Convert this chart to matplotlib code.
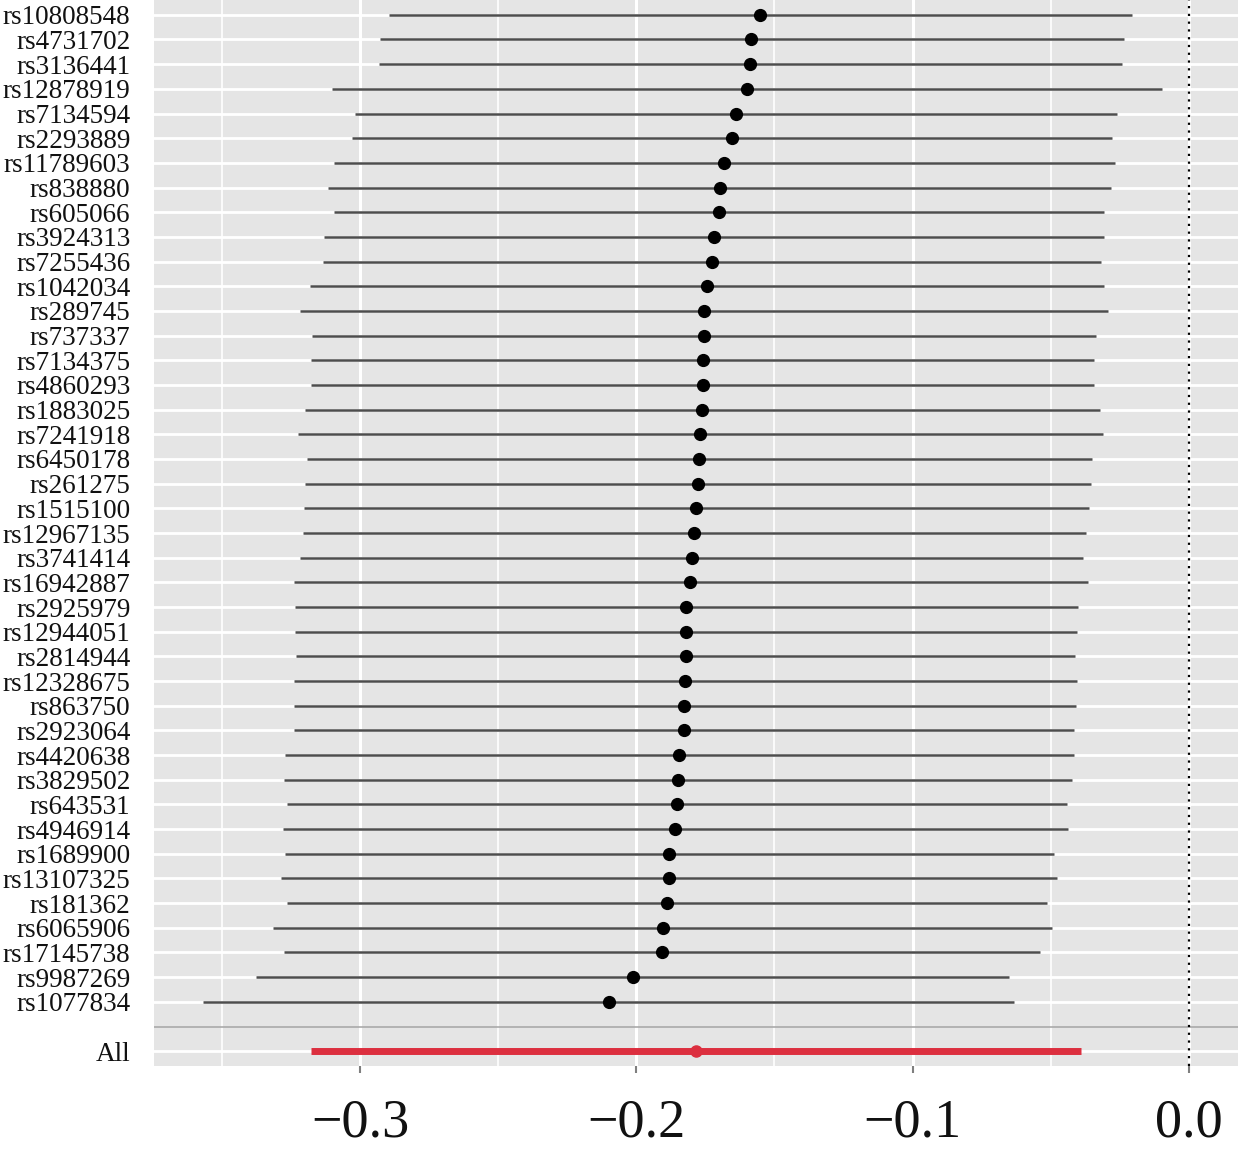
import matplotlib
matplotlib.use("Agg")
import matplotlib.pyplot as plt
from matplotlib.ticker import MultipleLocator

plt.rcParams["font.family"] = ["Liberation Serif", "DejaVu Serif"]

# SNPs, top to bottom
snps = [
    "rs10808548", "rs4731702", "rs3136441", "rs12878919", "rs7134594",
    "rs2293889", "rs11789603", "rs838880", "rs605066", "rs3924313",
    "rs7255436", "rs1042034", "rs289745", "rs737337", "rs7134375",
    "rs4860293", "rs1883025", "rs7241918", "rs6450178", "rs261275",
    "rs1515100", "rs12967135", "rs3741414", "rs16942887", "rs2925979",
    "rs12944051", "rs2814944", "rs12328675", "rs863750", "rs2923064",
    "rs4420638", "rs3829502", "rs643531", "rs4946914", "rs1689900",
    "rs13107325", "rs181362", "rs6065906", "rs17145738", "rs9987269",
    "rs1077834",
]
b = [
    -0.1552, -0.1585, -0.1588, -0.1600, -0.1639, -0.1655, -0.1681, -0.1698,
    -0.1700, -0.1720, -0.1727, -0.1745, -0.1755, -0.1756, -0.1758, -0.1758,
    -0.1761, -0.1769, -0.1773, -0.1776, -0.1783, -0.1790, -0.1799, -0.1804,
    -0.1821, -0.1821, -0.1822, -0.1824, -0.1826, -0.1826, -0.1844, -0.1849,
    -0.1852, -0.1859, -0.1880, -0.1882, -0.1889, -0.1904, -0.1907, -0.2013,
    -0.2099,
]
lo = [
    -0.2895, -0.2928, -0.2931, -0.3102, -0.3017, -0.3029, -0.3093, -0.3117,
    -0.3093, -0.3131, -0.3135, -0.3183, -0.3217, -0.3174, -0.3177, -0.3177,
    -0.3201, -0.3224, -0.3191, -0.3199, -0.3202, -0.3208, -0.3217, -0.3239,
    -0.3236, -0.3236, -0.3234, -0.3239, -0.3239, -0.3238, -0.3273, -0.3275,
    -0.3264, -0.3281, -0.3272, -0.3286, -0.3265, -0.3314, -0.3275, -0.3378,
    -0.3568,
]
hi = [
    -0.0205, -0.0236, -0.0243, -0.0097, -0.0260, -0.0277, -0.0267, -0.0281,
    -0.0307, -0.0307, -0.0317, -0.0307, -0.0291, -0.0336, -0.0342, -0.0342,
    -0.0321, -0.0309, -0.0351, -0.0353, -0.0362, -0.0371, -0.0382, -0.0365,
    -0.0400, -0.0404, -0.0412, -0.0405, -0.0407, -0.0414, -0.0414, -0.0421,
    -0.0439, -0.0436, -0.0487, -0.0478, -0.0513, -0.0495, -0.0538, -0.0650,
    -0.0633,
]
all_label = "All"
all_b, all_lo, all_hi = -0.1783, -0.3178, -0.0389

n = len(snps)
ys = [n + 1 - i for i in range(n)]  # 42 ... 2
all_y = 0

fig = plt.figure(figsize=(12.4, 11.58), dpi=100)
ax = fig.add_axes([154 / 1240, 92 / 1158, 1084 / 1240, 1066 / 1158])
ax.set_facecolor("#E5E5E5")

# grid
ax.set_axisbelow(True)
ax.xaxis.set_major_locator(MultipleLocator(0.1))
ax.xaxis.set_minor_locator(MultipleLocator(0.05))
ax.grid(which="major", axis="x", color="white", lw=2.2)
ax.grid(which="minor", axis="x", color="white", lw=1.2)
ax.grid(which="major", axis="y", color="white", lw=2.0)

# estimates
ax.hlines(ys, lo, hi, color="#4d4d4d", lw=1.8, zorder=2)
ax.plot(b, ys, "o", color="black", ms=8.5, zorder=3)

# combined
ax.axhline(1, color="#AAAAAA", lw=1.2, zorder=2)
ax.hlines(all_y, all_lo, all_hi, color="#DC2F3F", lw=5, zorder=2)
ax.plot(all_b, all_y, "o", color="#DC2F3F", ms=8, zorder=3)

ax.axvline(0, color="black", lw=1.6, ls=(0, (1, 2.5)), zorder=2)

xmin = min(lo + [all_lo, 0.0])
xmax = 0.0
pad = (xmax - xmin) * 0.05
ax.set_xlim(xmin - pad, xmax + pad)
ax.set_ylim(-0.6, n + 1.6)

ax.set_yticks(ys + [all_y])
ax.set_yticklabels(snps + [all_label])
ax.tick_params(axis="y", length=0, pad=17, labelsize=19.5, colors="#111111")
ax.tick_params(axis="x", which="major", length=5, width=1.5, color="#7F7F7F",
               pad=18, labelsize=39, labelcolor="#111111")
ax.tick_params(axis="x", which="minor", length=0)
for s in ax.spines.values():
    s.set_visible(False)

fig.savefig("out.png", dpi=100)
